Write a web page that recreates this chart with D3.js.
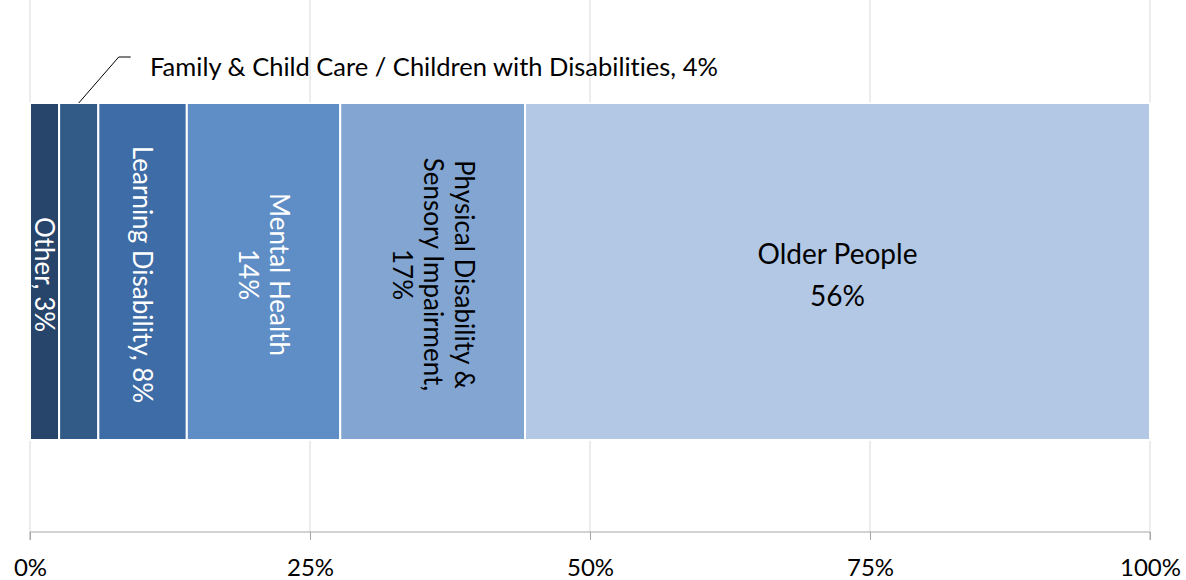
<!DOCTYPE html>
<html>
<head>
<meta charset="utf-8">
<script src="https://cdn.jsdelivr.net/npm/d3@7"></script>
<style>
  body { margin: 0; background: #fff; }
  svg { display: block; font-family: Lato, "Open Sans", sans-serif; font-variant-ligatures: none; }
</style>
</head>
<body>
<script>
const categories = ['Other', 'Family & Child Care / Children with Disabilities', 'Learning Disability',
    'Mental Health', 'Physical Disability & Sensory Impairment', 'Older People'];
const values = [2.6, 3.5, 7.9, 13.7, 16.5, 55.8];
const labels = [['Other, 3%'], null, ['Learning Disability, 8%'], ['Mental Health', '14%'],
    ['Physical Disability &', 'Sensory Impairment,', '17%'], ['Older People', '56%']];
const colors = ['#27446a', '#335b88', '#3e6ca6', '#5f8dc5', '#82a6d1', '#b3c8e4'];
const textColors = ['#fff', '#fff', '#fff', '#fff', '#000', '#000'];
const ticks = [0, 25, 50, 75, 100];

const width = 1186, height = 580;
const x = d3.scaleLinear().domain([0, 100]).range([30, 1150]);
const barTop = 103, barBottom = 440, axisY = 532;

const svg = d3.select('body').append('svg')
    .attr('width', width).attr('height', height);

// gridlines
svg.append('g').selectAll('line')
    .data(ticks).enter().append('line')
    .attr('x1', d => x(d)).attr('x2', d => x(d))
    .attr('y1', 0).attr('y2', axisY)
    .attr('stroke', '#d9d9d9').attr('stroke-width', 1);

// stacked segments
let acc = 0;
const segs = values.map((v, i) => {
    const s = { i, v, x0: acc, x1: acc + v };
    acc += v;
    return s;
});

svg.append('g').selectAll('rect')
    .data(segs).enter().append('rect')
    .attr('x', d => x(d.x0))
    .attr('y', barTop)
    .attr('width', d => x(d.x1) - x(d.x0))
    .attr('height', barBottom - barTop)
    .attr('fill', d => colors[d.i])
    .attr('stroke', '#fff').attr('stroke-width', 2);

// axis
const axis = svg.append('g')
    .attr('transform', `translate(0,${axisY})`)
    .call(d3.axisBottom(x).tickValues(ticks).tickFormat(d => d + '%').tickSize(8).tickPadding(19));
axis.select('.domain').attr('stroke', '#a6a6a6').attr('d', `M${x(0)},8V0H${x(100)}V8`);
axis.selectAll('.tick line').attr('stroke', '#a6a6a6');
axis.selectAll('.tick text').attr('font-size', 24).attr('fill', '#000')
    .attr('font-family', 'Lato, "Open Sans", sans-serif');

// labels inside bars
const midY = (barTop + barBottom) / 2;
const lineH = 31;
segs.forEach(d => {
    const lab = labels[d.i];
    if (!lab) return;
    const cx = (x(d.x0) + x(d.x1)) / 2;
    const vertical = d.i !== 5;
    const g = svg.append('g')
        .attr('transform', vertical ? `translate(${cx},${midY + 3}) rotate(90)` : `translate(${cx},${midY + 4})`);
    const n = lab.length;
    lab.forEach((t, k) => {
        g.append('text')
            .attr('x', 0)
            .attr('y', (k - (n - 1) / 2) * (vertical ? lineH : 42))
            .attr('dy', '0.35em')
            .attr('text-anchor', 'middle')
            .attr('font-size', vertical ? 26 : 28)
            .attr('fill', textColors[d.i])
            .text(t);
    });
});

// callout for the small Family segment
const fam = segs[1];
const fx = (x(fam.x0) + x(fam.x1)) / 2;
svg.append('path')
    .attr('d', `M${fx},${barTop}L${fx + 40},57H${fx + 52}`)
    .attr('fill', 'none').attr('stroke', '#000').attr('stroke-width', 1);
svg.append('text')
    .attr('x', 150).attr('y', 67).attr('dy', '0.35em')
    .attr('font-size', 25.5).attr('fill', '#000')
    .text(categories[1] + ', 4%');
</script>
</body>
</html>
